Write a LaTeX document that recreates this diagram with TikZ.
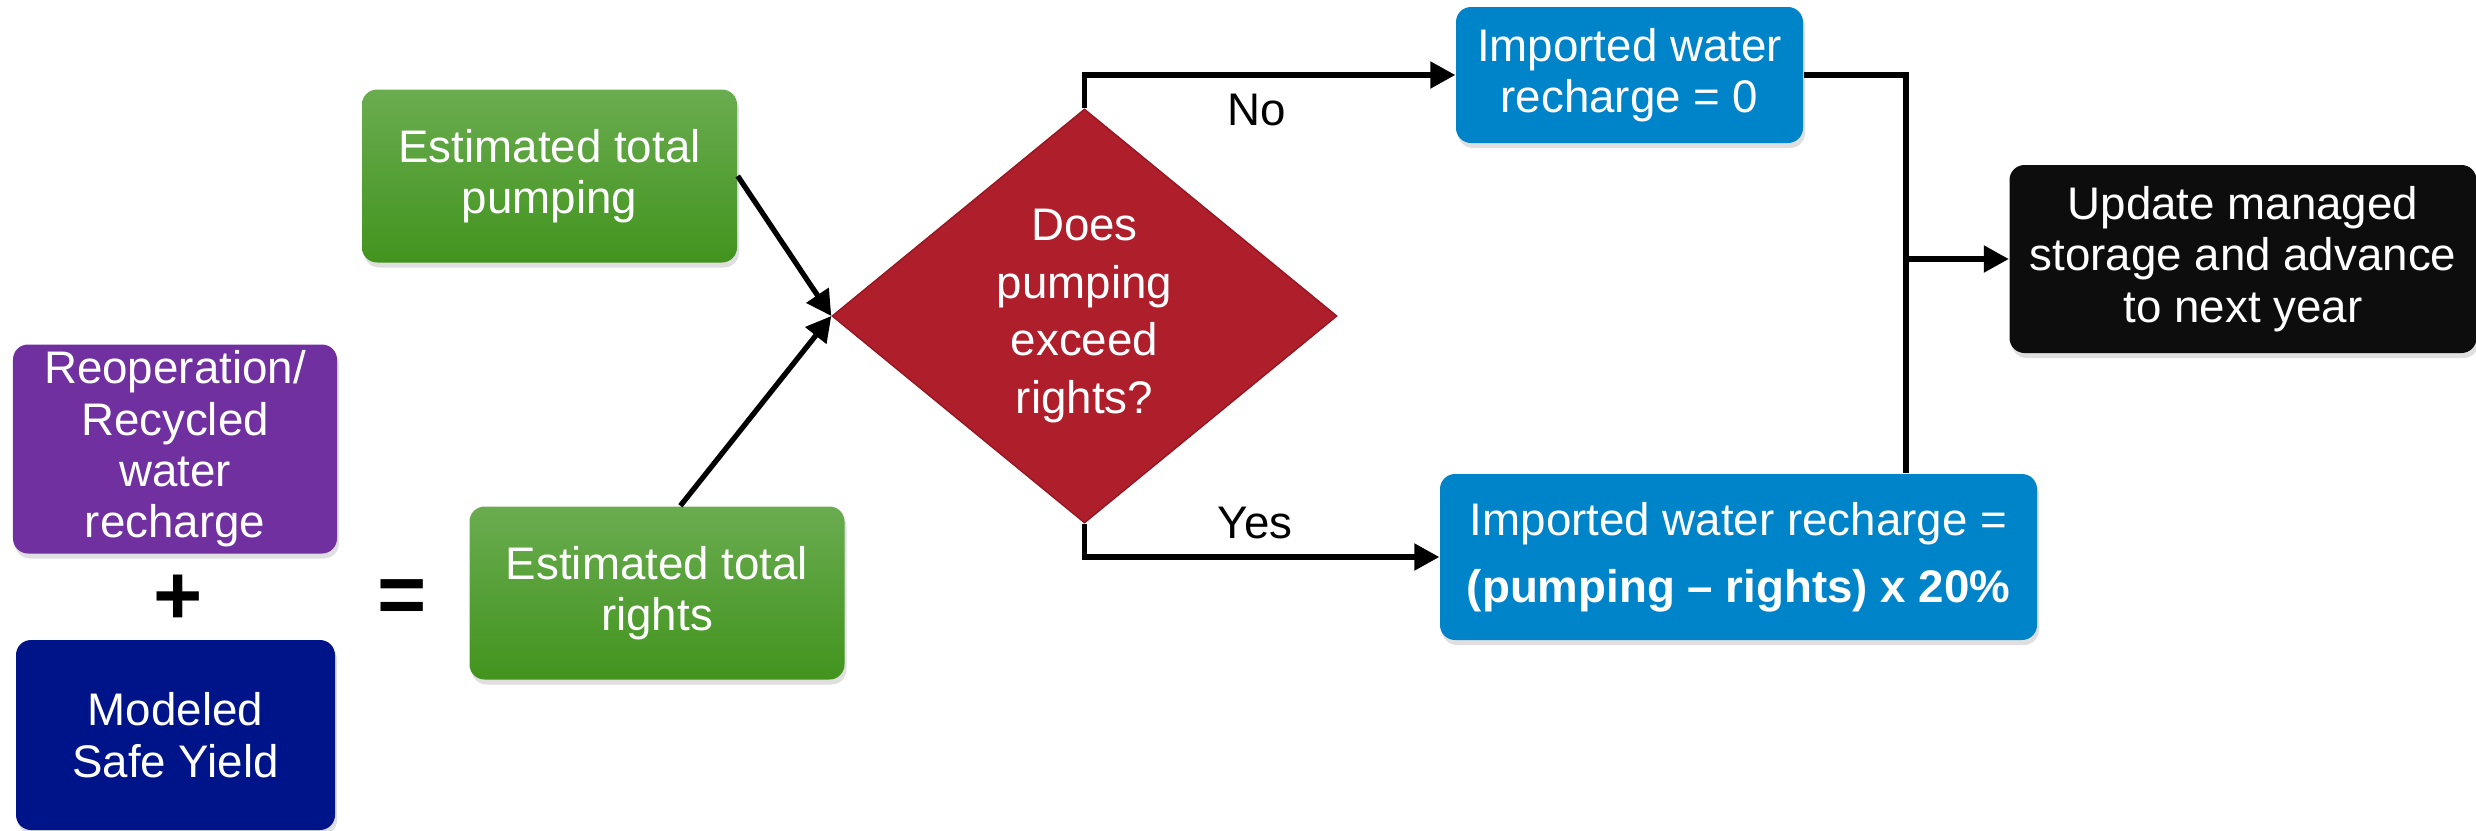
\documentclass[tikz,border=0pt]{standalone}
\usepackage{fontspec}
\setmainfont{Liberation Sans}
\usepackage{tikz}
\usetikzlibrary{shapes.geometric,arrows.meta,shadows}
\definecolor{boxpurple}{RGB}{112,48,160}
\definecolor{boxnavy}{RGB}{0,20,137}
\definecolor{greentop}{RGB}{106,172,80}
\definecolor{greenbot}{RGB}{66,148,30}
\definecolor{diared}{RGB}{175,30,43}
\definecolor{diaedge}{RGB}{150,22,34}
\definecolor{boxblue}{RGB}{0,132,201}
\definecolor{boxblack}{RGB}{13,13,13}

\begin{document}
\begin{tikzpicture}
    [line join=miter,x=1cm,y=1cm,
     box/.style={rounded corners=0.15cm,text=white,align=center,inner sep=0pt,
        font=\fontsize{13}{14.6}\selectfont,
        drop shadow={shadow xshift=0.02cm,shadow yshift=-0.05cm,opacity=0.25}},
     greenbox/.style={box,top color=greentop,bottom color=greenbot,minimum width=3.75cm,minimum height=1.73cm},
     bluebox/.style={box,fill=boxblue},
     wire/.style={line width=1.5pt},
     conn/.style={wire,-{Triangle[length=0.25cm,width=0.26cm]}},
     sign/.style={font=\fontsize{24}{24}\selectfont\bfseries},
     lbl/.style={font=\fontsize{13}{15}\selectfont}]
\useasboundingbox (0,0) rectangle (24.76,8.30);
%left side: the sum that gives the rights
\node[box,fill=boxpurple,minimum width=3.24cm,minimum height=2.09cm] (recyc) at (1.75,3.81) {Reoperation/\\Recycled\\water\\recharge};
\node[sign] (plus) at (1.78,2.30) {+};
\node[box,fill=boxnavy,minimum width=3.19cm,minimum height=1.90cm] (safe) at (1.755,0.95) {Modeled\\Safe Yield};
\node[sign] (eq) at (4.02,2.28) {=};

\node[greenbox] (pump) at (5.495,6.54) {Estimated total\\pumping};
\node[greenbox] (rights) at (6.57,2.37) {Estimated total\\rights};

%the decision
\node[diamond,fill=diared,draw=diaedge,thin,text=white,align=center,inner sep=0pt,shape aspect=1.22,
      minimum width=5.05cm,minimum height=4.14cm,font=\fontsize{13}{16.4}\selectfont] (exceed) at (10.845,5.14) {Does\\pumping\\exceed\\rights?};

\node[bluebox,minimum width=3.47cm,minimum height=1.36cm] (zero) at (16.295,7.55) {Imported water\\recharge = 0};
\node[bluebox,minimum width=5.97cm,minimum height=1.66cm,font=\fontsize{13}{19}\selectfont] (frac) at (17.385,2.73) {Imported water recharge =\\\textbf{(pumping – rights) x 20\%}};
\node[box,fill=boxblack,minimum width=4.67cm,minimum height=1.88cm] (next) at (22.43,5.71) {Update managed\\storage and advance\\to next year};

%connectors
 \draw[conn] (pump.east) -- (exceed.west);
 \draw[conn] (rights.75) -- (exceed.west);
 \draw[conn] (exceed.north) |- (zero.west);
 \draw[conn] (exceed.south) |- (frac.west);
  \node[lbl] (no) at (12.57,7.20) {No};
  \node[lbl] (yes) at (12.55,3.07) {Yes};

\coordinate (merge) at (19.06,5.71);
 \draw[wire] (zero.east) -| (merge) -- (merge |- frac.north);
 \draw[conn] (merge) -- (next.west);
\end{tikzpicture}
\end{document}
